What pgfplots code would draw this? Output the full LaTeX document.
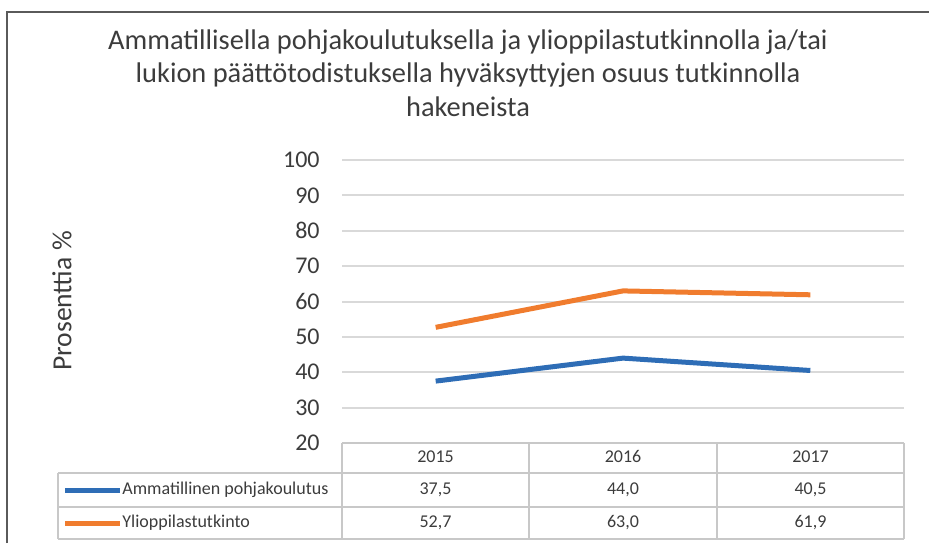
\documentclass[border=0pt]{standalone}
\usepackage{fontspec}
\setmainfont{Carlito}
\usepackage{pgfplots}
\pgfplotsset{compat=1.18}
\definecolor{txt}{RGB}{60,60,60}
\definecolor{frm}{RGB}{90,90,90}
\definecolor{grd}{RGB}{217,217,217}
\definecolor{tbl}{RGB}{200,200,200}
\definecolor{sblue}{RGB}{46,109,182}
\definecolor{sorange}{RGB}{240,124,46}
\begin{document}
\begin{tikzpicture}[x=1pt,y=1pt]
\path[use as bounding box] (0,0) rectangle (464.5,271.5);
% outer frame
\draw[frm, line width=1pt] (3.5,0) -- (3.5,265.75) -- (464.5,265.75);
% title
\node[align=center, text=txt, font=\fontsize{14.2}{16.75}\selectfont] at (234,235)
  {Ammatillisella pohjakoulutuksella ja ylioppilastutkinnolla ja/tai\\
   lukion päättötodistuksella hyväksyttyjen osuus tutkinnolla\\
   hakeneista};
% y label
\node[rotate=90, text=txt, font=\fontsize{13.8}{16}\selectfont] at (31,121) {Prosenttia \%};
\begin{axis}[
  at={(171pt,50pt)}, anchor=south west,
  scale only axis, width=281pt, height=141.5pt,
  xmin=-0.5, xmax=2.5, ymin=20, ymax=100,
  ytick={20,30,...,100}, xtick=\empty,
  axis line style={draw=none},
  major tick length=0pt,
  ymajorgrids, grid style={grd, line width=1pt},
  /pgf/number format/assume math mode=true,
  yticklabel style={font=\fontsize{12}{14}\selectfont, text=txt, inner sep=0pt, anchor=east, xshift=-11pt},
  clip=false,
]
\addplot[sblue, line width=2.5pt, line join=round] coordinates {(0,37.5) (1,44.0) (2,40.5)};
\addplot[sorange, line width=2.5pt, line join=round] coordinates {(0,52.7) (1,63.0) (2,61.9)};
\end{axis}
% data table
\begin{scope}[tbl, line width=1pt]
\draw (171,50) -- (452,50);
\draw (29,35) -- (452,35);
\draw (29,18) -- (452,18);
\draw (29,2) -- (452,2);
\draw (29,35) -- (29,2);
\foreach \xx in {171,264.5,358.5,452} \draw (\xx,50) -- (\xx,2);
\end{scope}
\begin{scope}[every node/.style={text=txt, font=\fontsize{9}{11}\selectfont, text height=6.4pt, text depth=1.6pt, inner ysep=0pt}]
\node at (217.75,42.5) {2015};
\node at (311.5,42.5) {2016};
\node at (405.25,42.5) {2017};
\draw[sblue, line width=2.5pt] (32.5,26.5) -- (60,26.5);
\node[anchor=west, inner xsep=0pt] at (61,26.5) {Ammatillinen pohjakoulutus};
\node at (217.75,26.5) {37,5};
\node at (311.5,26.5) {44,0};
\node at (405.25,26.5) {40,5};
\draw[sorange, line width=2.5pt] (32.5,10) -- (60,10);
\node[anchor=west, inner xsep=0pt] at (61,10) {Ylioppilastutkinto};
\node at (217.75,10) {52,7};
\node at (311.5,10) {63,0};
\node at (405.25,10) {61,9};
\end{scope}
\end{tikzpicture}
\end{document}
